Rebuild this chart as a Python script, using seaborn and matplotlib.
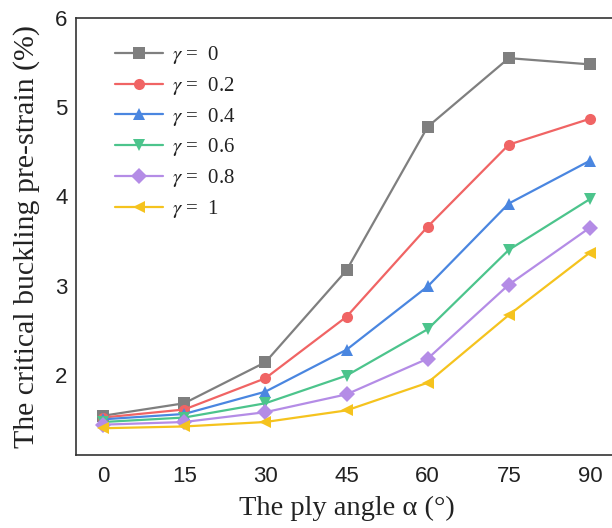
import matplotlib
matplotlib.use("Agg")
import matplotlib.pyplot as plt
import seaborn as sns
import pandas as pd

# Ply angle (degrees) on the x axis
angles = [0, 15, 30, 45, 60, 75, 90]

# Critical buckling pre-strain (%) for each gamma
gamma_labels = [r"$\gamma$ =  0", r"$\gamma$ =  0.2", r"$\gamma$ =  0.4",
                r"$\gamma$ =  0.6", r"$\gamma$ =  0.8", r"$\gamma$ =  1"]
strain_g0 = [1.54, 1.68, 2.14, 3.17, 4.78, 5.55, 5.48]
strain_g02 = [1.52, 1.61, 1.96, 2.65, 3.66, 4.58, 4.87]
strain_g04 = [1.50, 1.56, 1.81, 2.28, 2.99, 3.92, 4.40]
strain_g06 = [1.47, 1.52, 1.68, 1.99, 2.51, 3.40, 3.97]
strain_g08 = [1.44, 1.47, 1.58, 1.78, 2.18, 3.01, 3.65]
strain_g1 = [1.40, 1.42, 1.47, 1.60, 1.91, 2.67, 3.37]

series = [strain_g0, strain_g02, strain_g04, strain_g06, strain_g08, strain_g1]
colors = ["#7f7f7f", "#f06464", "#4a86e0", "#4cc48c", "#b48ce6", "#f5c31e"]
marker_list = ["s", "o", "^", "v", "D", "<"]

rows = []
for lab, vals in zip(gamma_labels, series):
    for a, v in zip(angles, vals):
        rows.append({"angle": a, "strain": v, "gamma": lab})
df = pd.DataFrame(rows)

sns.set_theme(style="white")
plt.rcParams["font.family"] = ["Liberation Sans", "DejaVu Sans"]
plt.rcParams["mathtext.fontset"] = "stix"

fig = plt.figure(figsize=(6.12, 5.28), dpi=100)
W, H = 612, 528
left, right, top, bottom = 76, 617, 18, 455
ax = fig.add_axes([left / W, 1 - bottom / H, (right - left) / W, (bottom - top) / H])

sns.lineplot(data=df, x="angle", y="strain", hue="gamma", style="gamma",
             hue_order=gamma_labels, style_order=gamma_labels,
             palette=dict(zip(gamma_labels, colors)),
             markers=dict(zip(gamma_labels, marker_list)),
             dashes=False, markersize=8, markeredgewidth=0,
             linewidth=1.6, ax=ax)

ax.set_xlim(-5, 95)
ax.set_ylim(1.1, 6)
ax.set_xticks(angles)
ax.set_yticks([2, 3, 4, 5, 6])
ax.tick_params(direction="in", length=5, width=1.0, labelsize=16,
               colors="#222222")
ax.tick_params(axis="x", pad=8)
ax.tick_params(axis="y", pad=6)
ax.spines["right"].set_visible(False)
for s in ax.spines.values():
    s.set_color("#333333")
    s.set_linewidth(1.2)

ax.set_xlabel("The ply angle α (°)", fontfamily="Liberation Serif",
              fontsize=20.5, color="#222222", labelpad=6)
ax.set_ylabel("The critical buckling pre-strain (%)", fontfamily="Liberation Serif",
              fontsize=21.5, color="#222222", labelpad=11)

leg = ax.legend(loc="upper left", bbox_to_anchor=(0.072, 0.94), frameon=False,
                borderaxespad=0, borderpad=0, handlelength=2.3,
                handletextpad=0.45, labelspacing=0.42,
                prop={"family": "Liberation Serif", "size": 15})
for t in leg.get_texts():
    t.set_color("#222222")

fig.savefig("out.png", dpi=100)
